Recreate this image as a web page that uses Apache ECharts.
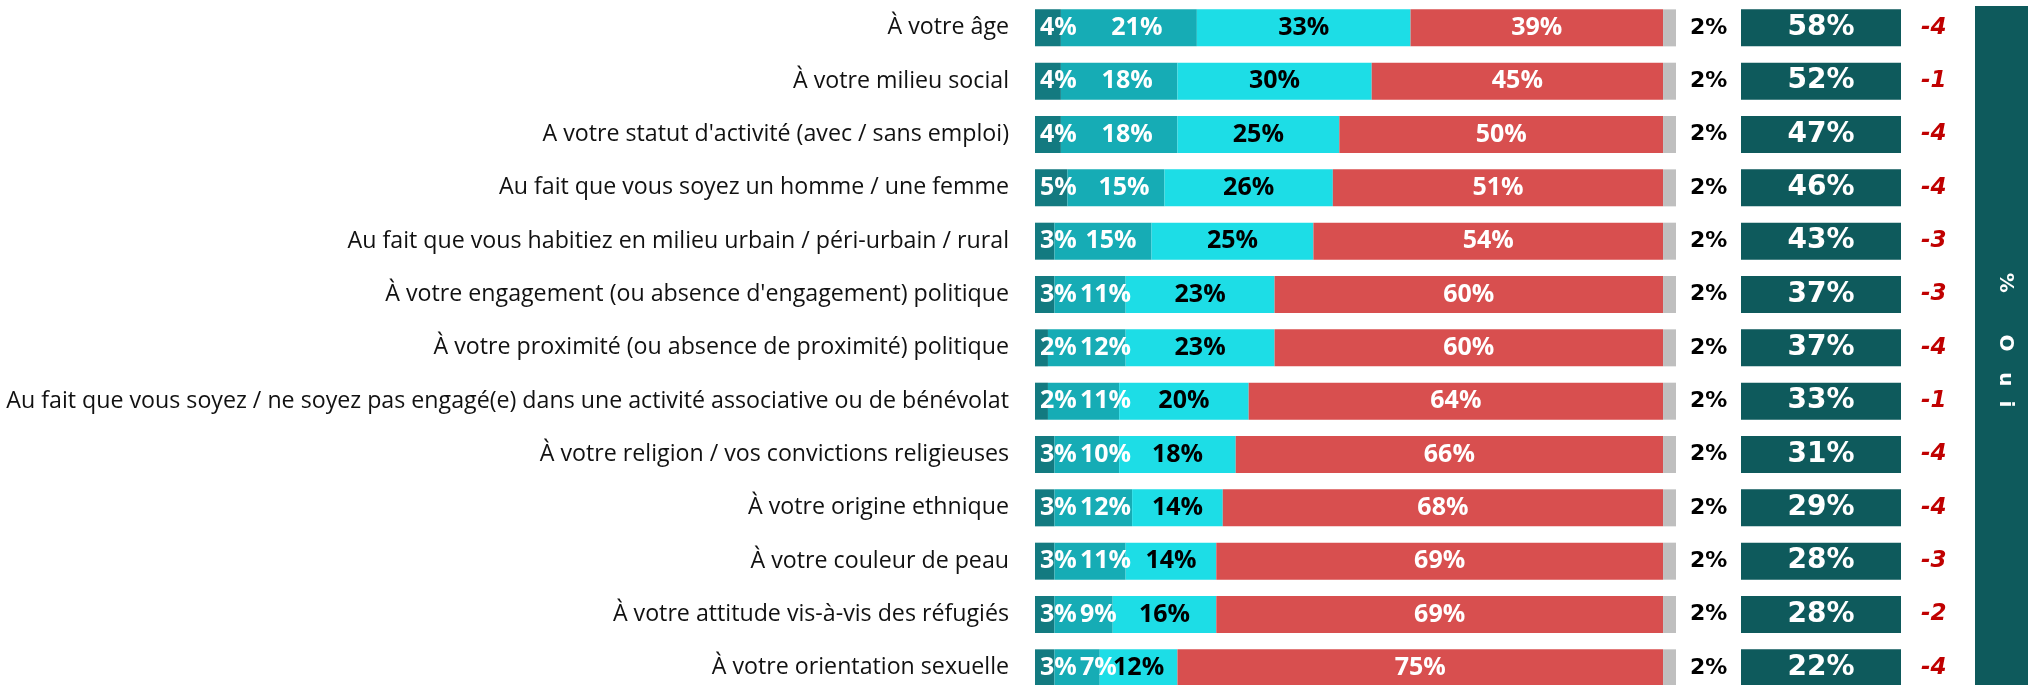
<!DOCTYPE html>
<html>
<head>
<meta charset="utf-8">
<script src="https://cdn.jsdelivr.net/npm/echarts@6/dist/echarts.min.js"></script>
<style>
    html, body { margin: 0; padding: 0; background: #fff; }
    #main { width: 2028px; height: 685px; }
</style>
</head>
<body>
<div id="main"></div>
<script>
var categories = [
    "À votre âge",
    "À votre milieu social",
    "A votre statut d'activité (avec / sans emploi)",
    "Au fait que vous soyez un homme / une femme",
    "Au fait que vous habitiez en milieu urbain / péri-urbain / rural",
    "À votre engagement (ou absence d'engagement) politique",
    "À votre proximité (ou absence de proximité) politique",
    "Au fait que vous soyez / ne soyez pas engagé(e) dans une activité associative ou de bénévolat",
    "À votre religion / vos convictions religieuses",
    "À votre origine ethnique",
    "À votre couleur de peau",
    "À votre attitude vis-à-vis des réfugiés",
    "À votre orientation sexuelle"
];
var tout = [4, 4, 4, 5, 3, 3, 2, 2, 3, 3, 3, 3, 3];
var beaucoup = [21, 18, 18, 15, 15, 11, 12, 11, 10, 12, 11, 9, 7];
var peu = [33, 30, 25, 26, 25, 23, 23, 20, 18, 14, 14, 16, 12];
var pasDuTout = [39, 45, 50, 51, 54, 60, 60, 64, 66, 68, 69, 69, 75];
var nsp = [2, 2, 2, 2, 2, 2, 2, 2, 2, 2, 2, 2, 2];
var oui = [58, 52, 47, 46, 43, 37, 37, 33, 31, 29, 28, 28, 22];
var evolution = [-4, -1, -4, -4, -3, -3, -4, -1, -4, -4, -3, -2, -4];

var chart = echarts.init(document.getElementById('main'));

function segment(name, data, color, textColor, pos) {
    return {
        name: name,
        type: 'bar',
        stack: 'total',
        barWidth: 37,
        data: data,
        itemStyle: { color: color },
        label: {
            show: true,
            position: pos || 'inside',
            distance: 5,
            formatter: '{c}%',
            color: textColor,
            fontFamily: 'Open Sans',
            fontWeight: 'bold',
            fontSize: 25
        }
    };
}

var plutot = segment('Plutôt', beaucoup, '#16acb5', '#fff');
// pousse le label a droite pour ne pas chevaucher celui du premier segment
plutot.labelLayout = function (params) {
    var minX = 1080;
    var x = params.labelRect.x + 8;
    return { dx: Math.max(x, minX) - params.labelRect.x };
};

var option = {
    animation: false,
    grid: { left: 1035, top: 1.2, width: 641, height: 693.3, outerBoundsMode: 'none' },
    xAxis: { type: 'value', min: 0, max: 99, show: false },
    yAxis: [
        {
            type: 'category',
            data: categories,
            inverse: true,
            axisLine: { show: false },
            axisTick: { show: false },
            axisLabel: {
                margin: 26,
                color: '#111',
                fontFamily: 'Open Sans',
                fontSize: 23.2
            }
        },
        {
            // colonne % Oui + evolution
            type: 'category',
            position: 'right',
            data: oui.map(function (v, i) {
                return '{box|' + v + '%}{gap|}{d|' + evolution[i] + '}';
            }),
            inverse: true,
            axisLine: { show: false },
            axisTick: { show: false },
            axisLabel: {
                margin: 65,
                align: 'left',
                rich: {
                    box: {
                        backgroundColor: '#0e5a5c',
                        width: 160,
                        height: 37,
                        align: 'center',
                        color: '#fff',
                        fontFamily: 'DejaVu Sans',
                        fontWeight: 'bold',
                        fontSize: 28
                    },
                    gap: { width: 20 },
                    d: {
                        color: '#c00000',
                        fontFamily: 'DejaVu Sans',
                        fontWeight: 'bold',
                        fontStyle: 'italic',
                        fontSize: 23
                    }
                }
            }
        }
    ],
    series: [
        segment('Tout à fait', tout, '#137a80', '#fff', 'insideLeft'),
        plutot,
        segment('Plutôt pas', peu, '#1ddde6', '#000'),
        segment('Pas du tout', pasDuTout, '#d84f4f', '#fff'),
        {
            name: 'NSP',
            type: 'bar',
            stack: 'total',
            barWidth: 37,
            data: nsp,
            itemStyle: { color: '#bfbfbf' },
            label: {
                show: true,
                position: 'right',
                distance: 14,
                formatter: '{c}%',
                color: '#000',
                fontFamily: 'DejaVu Sans',
                fontWeight: 'bold',
                fontSize: 22
            }
        }
    ],
    graphic: [
        {
            type: 'rect',
            shape: { x: 1975, y: 6, width: 53, height: 679 },
            style: { fill: '#0e5a5c' }
        },
        {
            type: 'text',
            x: 2005,
            y: 340,
            rotation: -Math.PI / 2,
            style: {
                text: '%      O   u  i',
                fill: '#fff',
                font: 'bold 20px "DejaVu Sans"',
                align: 'center',
                verticalAlign: 'middle'
            }
        }
    ]
};

option && chart.setOption(option);
</script>
</body>
</html>
